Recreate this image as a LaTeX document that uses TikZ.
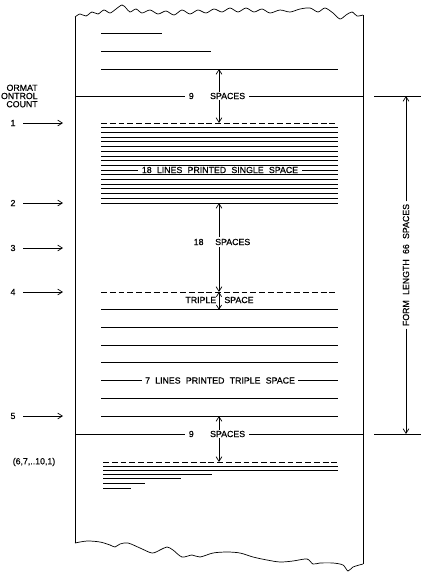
\documentclass[tikz,border=0pt]{standalone}
\usepackage{fontspec}
\setmainfont{Liberation Sans}
\newfontfamily\lblfam{Liberation Sans}[FakeBold=0.5]
\usetikzlibrary{arrows.meta}
\newcommand{\lblfont}{\lblfam\fontsize{7.5}{7}\selectfont\spaceskip=4.5pt plus 1pt\relax}
\tikzset{
  lbl/.style={font=\lblfont, inner sep=1.5pt},
  gaplbl/.style={lbl, fill=white, inner xsep=3pt, inner ysep=0.8pt},
  tip/.style={-{Straight Barb[length=4pt,width=5pt]}},
  dimline/.style={{Straight Barb[length=3.5pt,width=4.5pt]}-{Straight Barb[length=3.5pt,width=4.5pt]}},
  dashline/.style={dash pattern=on 5pt off 2.5pt},
}

\begin{document}
\begin{tikzpicture}[x=0.03cm, y=-0.03cm, line width=0.6pt]
\useasboundingbox (0,0) rectangle (444,586);
% paper edges:
\draw (75,17) -- (75,543);
\draw (363,15) -- (363,564);
\draw plot[smooth] coordinates {(75,17) (80,14) (86,16) (92,12) (98,14) (104,10) (110,13) (116,9) (122,5) (126,8) (130,12) (136,9) (142,13) (150,10) (158,14) (166,11) (174,15) (182,10) (190,14) (198,10) (206,13) (214,9) (222,12) (230,8) (238,12) (246,8) (254,12) (262,9) (270,13) (280,10) (290,12) (300,9) (310,8) (318,12) (325,8) (333,13) (340,19) (346,15) (352,12) (357,16) (363,15)};
\draw plot[smooth] coordinates {(75,543) (87,541) (100,542) (110,545) (115,547) (120,544) (128,543) (140,548) (152,553) (160,550) (167,547) (173,550) (182,557) (192,555) (200,557) (213,553) (227,552) (240,553) (253,557) (267,560) (280,562) (293,561) (307,559) (313,564) (320,563) (333,563) (343,565) (348,571) (353,567) (363,564)};
% lines above the form:
\draw (101,33) -- (162,33);
\draw (101,51) -- (211,51);
\draw (101,69) -- (338,69);
\coordinate (topline) at (219,69);
% top of form:
\node[gaplbl] (nineA) at (217,96) {9\hspace{14pt}SPACES};
\draw (75,96) -- (nineA.west);
\draw (nineA.east) -- (363,96);
\coordinate (firstline) at (219,123);
\draw[tip] (nineA.north -| topline) -- (topline);
\draw[tip] (nineA.south -| topline) -- (firstline);
% single space block:
\draw[dashline] (101,123) -- (338,123);
\foreach \i in {1,...,17}
  \draw (101,{123+\i*4.7}) -- (338,{123+\i*4.7});
\node[gaplbl] (single) at (220,170) {18 LINES PRINTED SINGLE SPACE};
\coordinate (lastsingle) at (219,203);
% 18 spaces:
\node[lbl] (eighteen) at (222,242) {18\hspace{10pt}SPACES};
\coordinate (tripletop) at (219,292);
\draw[tip] (eighteen.north -| lastsingle) -- (lastsingle);
\draw[tip] (eighteen.south -| lastsingle) -- (tripletop);
% triple space block:
\draw[dashline] (101,292) -- (338,292);
\foreach \i in {1,...,7}
  \draw (101,{292+\i*17.7}) -- (338,{292+\i*17.7});
\node[gaplbl] (tripleblk) at (220,380.5) {7 LINES PRINTED TRIPLE SPACE};
\node[lbl] (triple) at (219.5,300) {TRIPLE\hspace{7pt}SPACE};
\coordinate (secondtriple) at (219,309.7);
\draw[dimline] (tripletop) -- (secondtriple);
\coordinate (lasttriple) at (219,416);
% bottom of form:
\node[gaplbl] (nineB) at (217,434) {9\hspace{14pt}SPACES};
\draw (75,434) -- (nineB.west);
\draw (nineB.east) -- (363,434);
\coordinate (nextform) at (219,462);
\draw[tip] (nineB.north -| lasttriple) -- (lasttriple);
\draw[tip] (nineB.south -| lasttriple) -- (nextform);
% next form:
\draw[dashline] (103,462) -- (338,462);
\draw (103,466) -- (338,466);
\draw (103,470) -- (338,470);
\draw (103,474) -- (212,474);
\draw (103,478.7) -- (181,478.7);
\draw (103,483) -- (145,483);
\draw (103,488) -- (131,488);
% form length:
\draw (374,96) coordinate (fltop) -- (421,96);
\draw (374,434) coordinate (flbot) -- (421,434);
\node[lbl, rotate=90, fill=white, inner sep=2pt] (formlen) at (406,265) {FORM LENGTH 66 SPACES};
\draw[tip] (formlen.east) -- (formlen.east |- fltop);
\draw[tip] (formlen.west) -- (formlen.west |- flbot);
% format control count:
\node[lbl, align=right, anchor=east, inner sep=0pt] (fcc) at (38,96) {ORMAT\\ONTROL\\COUNT};
\foreach \n/\y in {1/123,2/203,3/248,4/292,5/416}{
  \node[lbl] (cnt\n) at (13,\y) {\n};
  \coordinate (ctip\n) at (63,\y);
  \draw[tip] ([xshift=5pt]cnt\n.east) -- (ctip\n);
}
\node[lbl] (cntnext) at (34,462) {(6,7,..10,1)};
\end{tikzpicture}
\end{document}
